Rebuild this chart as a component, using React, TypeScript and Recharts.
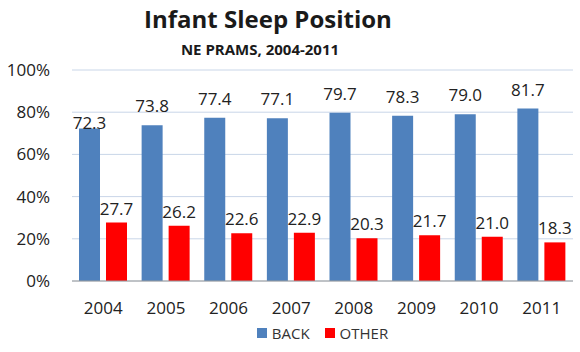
import React from 'react';
import { BarChart, Bar, XAxis, YAxis, CartesianGrid, Legend, LabelList } from 'recharts';

const years = ['2004', '2005', '2006', '2007', '2008', '2009', '2010', '2011'];
const backValues = [72.3, 73.8, 77.4, 77.1, 79.7, 78.3, 79.0, 81.7];
const otherValues = [27.7, 26.2, 22.6, 22.9, 20.3, 21.7, 21.0, 18.3];
const yTicks = [0, 20, 40, 60, 80, 100];

const data = years.map((y, i) => ({ year: y, BACK: backValues[i], OTHER: otherValues[i] }));

const FONT = '"Open Sans", "DejaVu Sans", sans-serif';
const BLUE = '#4F81BD';
const RED = '#FF0000';

const makeLabel = (offset: number, firstShift: number) => (props: any) => {
  const { x, y, width, value, index } = props;
  const shift = index === 0 ? firstShift : 0;
  return (
    <text
      x={Number(x) + Number(width) / 2}
      y={Number(y) - offset + shift}
      textAnchor="middle"
      fontFamily={FONT}
      fontSize={17}
      fill="#222"
    >
      {Number(value).toFixed(1)}
    </text>
  );
};

const LegendContent = () => (
  <div
    style={{
      display: 'flex',
      justifyContent: 'center',
      alignItems: 'center',
      height: 20,
      fontFamily: FONT,
      fontSize: 15,
      color: '#333',
    }}
  >
    <span style={{ width: 10, height: 10, background: BLUE, display: 'inline-block', marginRight: 5 }} />
    <span style={{ marginRight: 15 }}>BACK</span>
    <span style={{ width: 10, height: 10, background: RED, display: 'inline-block', marginRight: 5 }} />
    <span>OTHER</span>
  </div>
);

export default function App() {
  return (
    <div style={{ position: 'absolute', left: 0, top: 0, width: 580, height: 352, background: '#fff' }}>
      <div
        style={{
          position: 'absolute',
          left: 0,
          top: 7,
          width: 536,
          textAlign: 'center',
          fontFamily: FONT,
          fontWeight: 700,
          fontSize: 24,
          lineHeight: '24px',
          color: '#1a1a1a',
        }}
      >
        Infant Sleep Position
      </div>
      <div
        style={{
          position: 'absolute',
          left: 0,
          top: 42,
          width: 520,
          textAlign: 'center',
          fontFamily: FONT,
          fontWeight: 700,
          fontSize: 15,
          lineHeight: '15px',
          color: '#1a1a1a',
        }}
      >
        NE PRAMS, 2004-2011
      </div>
      <BarChart
        width={580}
        height={352}
        data={data}
        margin={{ top: 70, right: 7, bottom: 5, left: 0 }}
        barSize={21}
        barGap={6}
      >
        <CartesianGrid vertical={false} stroke="#C9D6E8" strokeWidth={1} />
        <XAxis
          dataKey="year"
          height={46}
          tickLine={false}
          axisLine={{ stroke: '#9A9A9A' }}
          tickSize={0}
          tickMargin={21}
          tick={{ fontFamily: FONT, fontSize: 17, fill: '#222' }}
        />
        <YAxis
          width={72}
          domain={[0, 100]}
          ticks={yTicks}
          interval={0}
          tickFormatter={(v: number) => `${v}%`}
          axisLine={false}
          tickLine={false}
          tickSize={0}
          tickMargin={22}
          tick={{ fontFamily: FONT, fontSize: 17, fill: '#222' }}
        />
        <Legend
          verticalAlign="bottom"
          content={<LegendContent />}
          wrapperStyle={{ top: 323, left: 72, width: 501, height: 20 }}
        />
        <Bar dataKey="BACK" fill={BLUE} isAnimationActive={false}>
          <LabelList dataKey="BACK" content={makeLabel(13, 14)} />
        </Bar>
        <Bar dataKey="OTHER" fill={RED} isAnimationActive={false}>
          <LabelList dataKey="OTHER" content={makeLabel(8, 0)} />
        </Bar>
      </BarChart>
    </div>
  );
}
